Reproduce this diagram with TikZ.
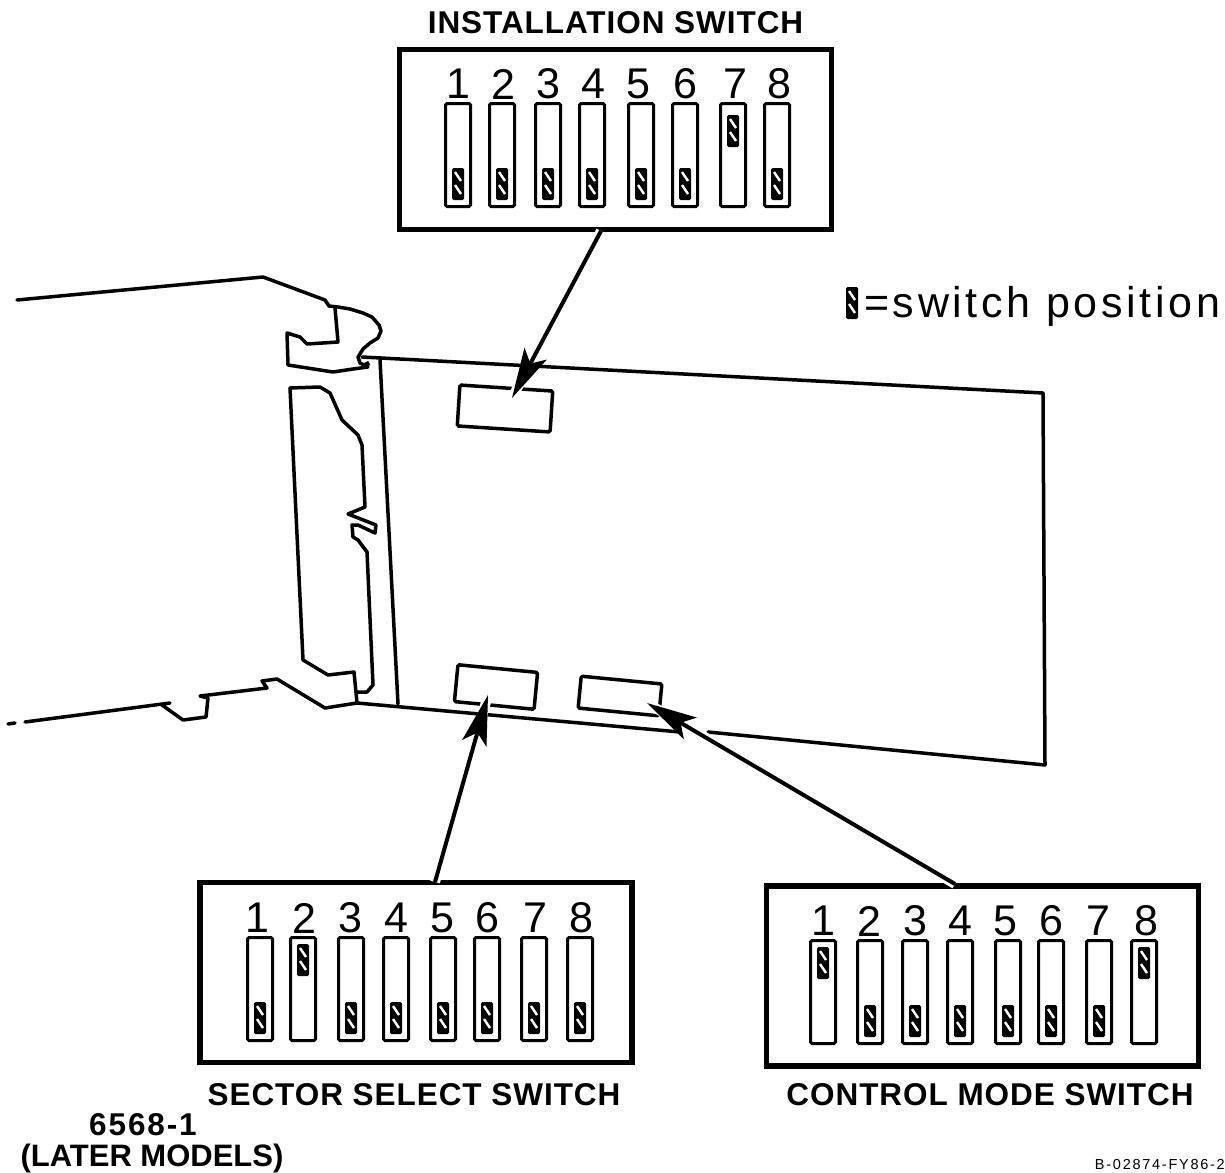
\documentclass[tikz,border=0pt]{standalone}
\usepackage{fontspec}
\setmainfont{Liberation Sans}
\usetikzlibrary{arrows.meta, positioning}

% one row of eight switches: prefix, digit y, list of digit/slot x/digit x/slider offset
\newcommand{\switchrow}[3]{%
  \foreach \n/\x/\dx/\pos in {#3} {
    \node[digit] (#1d\n) at (\dx,#2) {\n};
    \node[slotbox] (#1s\n) at (\x,#2+71) {};
    \node[slider] (#1p\n) at (\x,#2+\pos) {};
  }%
}

\begin{document}
\begin{tikzpicture}[
  x=1pt, y=-1pt,
  panel/.style={draw, line width=5.5pt, minimum width=#1, minimum height=180pt, inner sep=0pt},
  panel/.default=432pt,
  digit/.style={inner sep=0pt, font=\fontsize{43}{43}\selectfont},
  slotbox/.style={draw, line width=3pt, rounded corners=1.5pt, minimum width=25pt, minimum height=103pt, inner sep=0pt},
  slider/.style={fill=black, rounded corners=1.5pt, minimum width=12pt, minimum height=32pt, inner sep=0pt,
    path picture={\draw[white, line width=2.4pt] (path picture bounding box.center) ++(-3,-12) -- ++(6,9) ++(-6,4) -- ++(6,9);}},
  title/.style={inner sep=0pt, font=\fontsize{31.5}{31.5}\selectfont\bfseries\addfontfeature{LetterSpace=3}},
  socket/.style={draw, line width=3.5pt, rounded corners=1.5pt, inner sep=0pt},
  outline/.style={line width=3.5pt, line join=round, line cap=round},
  feed/.style={line width=4pt, -{Stealth[length=50pt, width=25pt, inset=11pt]},
    preaction={draw, white, line width=10pt, arrows=-, shorten >=6pt}}
]
\useasboundingbox (0,0) rectangle (1225,1172);

% chassis
\draw[outline] (17,300) -- (263,277) -- (325,300) -- (329,306) -- (338,307) -- (350,309) -- (363,313)
  -- (372,317) -- (379,325) -- (381,331) -- (378,338) -- (370,343) -- (363,349) -- (358,357) -- (360,363) -- (366,366);
\draw[outline] (335,308) -- (338,342) -- (307,344) -- (300,337) -- (287,333) -- (288,365)
  -- (333,372) -- (353,369) -- (368,367);
\draw[outline] (290,388) -- (320,387) -- (330,393) -- (342,420) -- (358,435) -- (362,445) -- (365,507)
  -- (348,514) -- (376,525) -- (375,533) -- (358,525) -- (352,525) -- (353,537) -- (358,540) -- (367,552)
  -- (373,685) -- (367,692) -- (357,692);
\draw[outline] (290,388) -- (303,660) -- (328,675) -- (354,672) -- (357,703);
\draw[outline] (25,722) -- (170,703) (162,705) -- (183,720) -- (206,717) -- (208,698) -- (200,696)
  -- (267,688) -- (262,681) -- (277,679) -- (325,708) -- (357,703);
\draw[outline] (8,724) -- (15,723);

% board
\draw[outline] (362,357) -- (1043,393) -- (1045,765) -- (708,732);
\draw[outline] (357,703) -- (680,732);
\draw[outline] (380,360) -- (398,704);
\draw[line width=5pt] (366,362) -- (368,366);

% sockets on the board
\node[socket, minimum width=93pt, minimum height=41pt, rotate=-3.7] (instbox) at (505,408.5) {};
\node[socket, minimum width=80pt, minimum height=37pt, rotate=-5.5] (sectbox) at (496,687) {};
\node[socket, minimum width=81pt, minimum height=32pt, rotate=-5.5] (ctrlbox) at (620,696) {};

% switch panels
\node[panel] (instpanel) at (615.5,139.5) {};
\node[panel] (sectpanel) at (416,972.5) {};
\node[panel] (ctrlpanel) at (982.5,976) {};

\switchrow{inst}{84}{1/458/458/100, 2/502/503/100, 3/548/548/100, 4/592/593/100,
  5/641/638/100, 6/685/685/100, 7/733/735/47, 8/777/779/100}
\switchrow{sect}{918}{1/260/257/100, 2/303/304/42, 3/351/350/100, 4/396/396/100,
  5/443/442/100, 6/487/487/100, 7/534/535/100, 8/580/581/100}
\switchrow{ctrl}{921}{1/823/823/42, 2/870/869/100, 3/915/915/100, 4/960/960/100,
  5/1008/1005/100, 6/1051/1051/100, 7/1099/1098/100, 8/1144/1146/42}

\node[title, above=13pt of instpanel] (insttitle) {INSTALLATION SWITCH};
\node[title] (secttitle) at (414,1095) {SECTOR SELECT SWITCH};
\node[title] (ctrltitle) at (990,1095) {CONTROL MODE SWITCH};

% arrows
\coordinate (instfrom) at (601,231);
\coordinate (instto) at (512,398);
\coordinate (sectfrom) at (435,882);
\coordinate (sectto) at (488,695);
\coordinate (ctrlfrom) at (955,884);
\coordinate (ctrlto) at (647,703);
\draw[feed] (instfrom) -- (instto);
\draw[feed] (sectfrom) -- (sectto);
\draw[feed] (ctrlfrom) -- (ctrlto);

% key
\node[slider] (keyslider) at (852,303) {};
\node[anchor=west, inner sep=0pt, font=\fontsize{43}{43}\selectfont\addfontfeature{LetterSpace=8.5}] (keytext) at (864,306) {=switch position};

% model and drawing number
\node[title, font=\fontsize{31.5}{31.5}\selectfont\bfseries\addfontfeature{LetterSpace=6}] (model) at (143,1125) {6568-1};
\node[title, font=\fontsize{31}{31}\selectfont\bfseries] (later) at (152,1158) {(LATER MODELS)};
\node[inner sep=0pt, anchor=east, font=\fontsize{14.5}{14.5}\selectfont\addfontfeature{LetterSpace=12}] (drawno) at (1225,1164) {B-02874-FY86-2};
\end{tikzpicture}
\end{document}
